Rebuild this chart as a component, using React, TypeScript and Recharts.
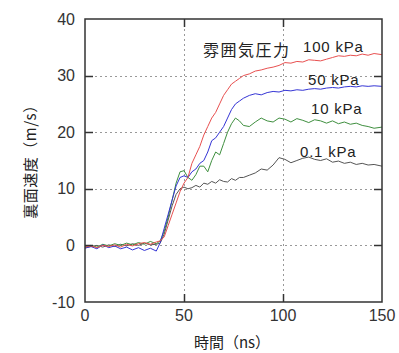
import { LineChart, Line, XAxis, YAxis } from 'recharts'

const times = [
    0, 3, 6, 9, 12, 15, 18, 21, 24, 27, 30, 33, 36, 38, 40, 42, 44, 46, 48, 50, 52, 54, 56, 58, 60, 62, 64, 66, 68, 70, 72,
    74, 76, 78, 80, 83, 86, 89, 92, 95, 98, 101, 104, 107, 110, 113, 116, 119, 122, 125, 128, 131, 134, 137, 140, 143, 146,
    150,
]

const kpa100 = [
    -0.3, -0.1, -0.4, 0, -0.2, 0.1, -0.3, 0.2, -0.1, 0.3, 0.5, 0.2, 0.6, 0.8, 1.5, 3.5, 5.5, 7.5, 9.5, 11, 12, 14.5, 16,
    17.5, 19.5, 21, 22.5, 23.5, 25, 26.5, 27.5, 28.5, 29, 29.5, 30, 30.3, 30.8, 31, 31.3, 31.5, 31.8, 32.3, 32.2, 32.5,
    32.4, 32.8, 32.7, 32.6, 32.9, 33.2, 33.5, 33.4, 33.6, 33.5, 33.8, 33.6, 33.9, 33.7,
]

const kpa50 = [
    -0.5, -0.2, -0.6, 0.1, -0.4, -0.1, -0.6, -0.3, -0.8, -0.4, -0.9, -0.5, -1, 0.5, 3, 5.5, 8, 10.5, 12, 12.3, 12, 13,
    13.5, 14.5, 15, 16.5, 18.5, 19, 20, 21, 22.5, 24, 25, 25.5, 26, 26.5, 26.8, 26.6, 27, 27.2, 27.1, 27.4, 27.3, 27.5,
    27.4, 27.6, 27.7, 27.6, 27.8, 27.9, 27.8, 28, 28.1, 28, 28.2, 28.1, 28.2, 28.1,
]

const kpa10 = [
    -0.2, 0, -0.3, 0.2, -0.1, 0.3, 0, 0.4, 0.1, 0.5, 0.2, 0.7, 0.3, 0.8, 2.5, 5, 8, 11, 13, 13.2, 12, 11.5, 12.5, 14, 14,
    13, 15, 16.5, 16, 18, 20, 21.5, 22.5, 22, 21.2, 21, 21.8, 22.5, 22, 21.8, 22.5, 22.3, 21.8, 22.4, 22.1, 21.7, 22.2, 22,
    21.6, 22, 21.5, 21.8, 21.4, 21.6, 21.2, 21, 20.7, 20.9,
]

const kpa01 = [
    -0.4, -0.2, 0, -0.3, 0.1, -0.2, 0.2, -0.1, 0.3, 0, 0.4, 0.1, 0.2, 0.4, 2, 4.5, 7, 9, 10, 10.3, 10, 10.2, 10.6, 10.3,
    11, 10.8, 11.3, 11, 11.6, 11.3, 11.2, 11.8, 11.5, 12, 12, 12.4, 12.8, 13.5, 13.3, 14.2, 15.5, 15.2, 14.6, 15, 15.4,
    15.6, 15.2, 15, 15.3, 14.7, 14.9, 14.5, 14.7, 14.3, 14.5, 14.2, 14.3, 14,
]

const xTicks = [0, 50, 100, 150]
const yTicks = [-10, 0, 10, 20, 30, 40]
const xInner = [50, 100]
const yInner = [0, 10, 20, 30]

const data = times.map((t, i) => ({
    t,
    p100: kpa100[i],
    p50: kpa50[i],
    p10: kpa10[i],
    p01: kpa01[i],
}))

const font = '"Liberation Sans", Arial, sans-serif'
const cjk = '"Noto Sans CJK JP", sans-serif'
const axisColor = '#333'

const X_MIN = 0
const X_MAX = 150
const Y_MIN = -10
const Y_MAX = 40

// plot box, follows from the chart margins + axis sizes below
const W = 399
const H = 353
const M = { top: 19, right: 17, bottom: 21, left: 25 }
const Y_AXIS_W = 60
const X_AXIS_H = 30
const box = {
    left: M.left + Y_AXIS_W,
    top: M.top,
    width: W - M.left - Y_AXIS_W - M.right,
    height: H - M.top - M.bottom - X_AXIS_H,
}
const TICK = 8
// snap to pixel centres so the 1px dotted lines stay crisp
const px = (v: number) => Math.round(box.left + ((v - X_MIN) / (X_MAX - X_MIN)) * box.width) + 0.5
const py = (v: number) => Math.round(box.top + ((Y_MAX - v) / (Y_MAX - Y_MIN)) * box.height) + 0.5

const overlay: React.CSSProperties = { position: 'absolute', left: 0, top: 0, pointerEvents: 'none' }

function Grid() {
    return (
        <svg width={W} height={H} style={overlay}>
            {xInner.map((v) => (
                <line key={'gx' + v} x1={px(v)} x2={px(v)} y1={box.top} y2={box.top + box.height} stroke="#999" strokeDasharray="2 3" />
            ))}
            {yInner.map((v) => (
                <line key={'gy' + v} x1={box.left} x2={box.left + box.width} y1={py(v)} y2={py(v)} stroke="#999" strokeDasharray="2 3" />
            ))}
        </svg>
    )
}

// frame with inward ticks on all four sides
function Frame() {
    const right = box.left + box.width
    const bottom = box.top + box.height
    return (
        <svg width={W} height={H} style={overlay}>
            <g stroke={axisColor} strokeWidth={1.5} fill="none">
                {xInner.map((v) => (
                    <g key={'tx' + v}>
                        <line x1={px(v)} x2={px(v)} y1={bottom} y2={bottom - TICK} />
                        <line x1={px(v)} x2={px(v)} y1={box.top} y2={box.top + TICK} />
                    </g>
                ))}
                {yInner.map((v) => (
                    <g key={'ty' + v}>
                        <line x1={box.left} x2={box.left + TICK} y1={py(v)} y2={py(v)} />
                        <line x1={right} x2={right - TICK} y1={py(v)} y2={py(v)} />
                    </g>
                ))}
                <path d={`M${box.left},${box.top} H${right} V${bottom} H${box.left} Z`} />
            </g>
        </svg>
    )
}

const labelStyle: React.CSSProperties = {
    position: 'absolute',
    fontFamily: font,
    fontSize: 15,
    color: '#222',
    whiteSpace: 'nowrap',
    letterSpacing: 0.8,
}

export default function App() {
    return (
        <div style={{ position: 'absolute', left: 0, top: 0, width: W, height: H, background: '#fff' }}>
            <Grid />
            <LineChart width={W} height={H} data={data} margin={M}>
                <XAxis
                    dataKey="t"
                    type="number"
                    domain={[X_MIN, X_MAX]}
                    ticks={xTicks}
                    height={X_AXIS_H}
                    tickSize={0}
                    tickMargin={8}
                    tickLine={false}
                    axisLine={false}
                    tick={{ fill: '#333', fontSize: 16, fontFamily: font }}
                />
                <YAxis
                    type="number"
                    domain={[Y_MIN, Y_MAX]}
                    ticks={yTicks}
                    width={Y_AXIS_W}
                    tickSize={0}
                    tickMargin={10}
                    tickLine={false}
                    axisLine={false}
                    tick={{ fill: '#333', fontSize: 16, fontFamily: font }}
                />
                <Line dataKey="p01" stroke="#555" strokeWidth={1} dot={false} isAnimationActive={false} />
                <Line dataKey="p10" stroke="#3f8f3f" strokeWidth={1} dot={false} isAnimationActive={false} />
                <Line dataKey="p50" stroke="#3535d5" strokeWidth={1} dot={false} isAnimationActive={false} />
                <Line dataKey="p100" stroke="#e85050" strokeWidth={1} dot={false} isAnimationActive={false} />
            </LineChart>
            <Frame />
            <div style={{ ...labelStyle, left: 203, top: 37, fontFamily: cjk, fontSize: 16, letterSpacing: 1.5 }}>
                雰囲気圧力
            </div>
            <div style={{ ...labelStyle, left: 303, top: 38 }}>100 kPa</div>
            <div style={{ ...labelStyle, left: 308, top: 71 }}>50 kPa</div>
            <div style={{ ...labelStyle, left: 311, top: 100 }}>10 kPa</div>
            <div style={{ ...labelStyle, left: 300, top: 143 }}>0.1 kPa</div>
            <div
                style={{
                    position: 'absolute',
                    left: 29,
                    top: 158,
                    transform: 'translate(-50%, -50%) rotate(-90deg)',
                    fontFamily: cjk,
                    fontSize: 15,
                    letterSpacing: 0.5,
                    color: '#222',
                    whiteSpace: 'nowrap',
                }}
            >
                裏面速度（m/s）
            </div>
            <div
                style={{
                    position: 'absolute',
                    left: 232,
                    top: 341,
                    transform: 'translate(-50%, -50%)',
                    fontFamily: cjk,
                    fontSize: 15,
                    color: '#222',
                    whiteSpace: 'nowrap',
                }}
            >
                時間（ns）
            </div>
        </div>
    )
}
